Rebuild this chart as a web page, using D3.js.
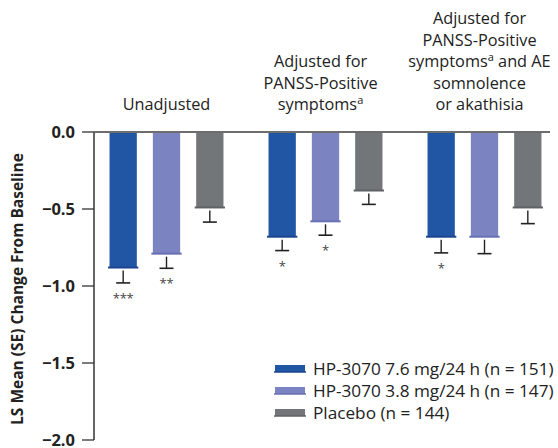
<!DOCTYPE html>
<html>
<head>
<meta charset="utf-8">
<script src="https://cdn.jsdelivr.net/npm/d3@7"></script>
<style>
  body { margin: 0; background: #fff; }
  svg { font-family: "Open Sans", "Noto Sans", sans-serif; }
  .tick-label { font-weight: bold; font-size: 16.5px; fill: #222; }
  .axis-label { font-weight: bold; font-size: 15.5px; fill: #222; }
  .group-title { font-size: 16.3px; fill: #222; }
  .legend-text { font-size: 17.2px; fill: #222; }
  .sig { font-size: 13px; fill: #444; }
</style>
</head>
<body>
<svg id="chart" width="558" height="448"></svg>
<script>

// Chart data
var groups = ["Unadjusted", "Adjusted PANSS", "Adjusted PANSS AE"];
var seriesNames = ["HP-3070 7.6 mg/24 h (n = 151)", "HP-3070 3.8 mg/24 h (n = 147)", "Placebo (n = 144)"];
var seriesColours = ["#2156a5", "#7b83c1", "#727679"];
var seriesEdges = ["#1a4690", "#6870b3", "#5f6366"];

var mean76 = [-0.88, -0.68, -0.68];
var mean38 = [-0.79, -0.58, -0.68];
var meanPlacebo = [-0.49, -0.38, -0.49];

var se76 = [0.10, 0.09, 0.105];
var se38 = [0.095, 0.09, 0.11];
var sePlacebo = [0.095, 0.09, 0.105];

var sig76 = ["***", "*", "*"];
var sig38 = ["**", "*", ""];
var sigPlacebo = ["", "", ""];

var yTicks = [0, -0.5, -1.0, -1.5, -2.0];

// title lines per group; [text, superscript, text after]
var groupTitles = [
    [["Unadjusted", ""]],
    [["Adjusted for", ""], ["PANSS-Positive", ""], ["symptoms", "a"]],
    [["Adjusted for", ""], ["PANSS-Positive", ""], ["symptoms", "a", " and AE"], ["somnolence", ""], ["or akathisia", ""]]
];

var means = [mean76, mean38, meanPlacebo];
var ses = [se76, se38, sePlacebo];
var sigs = [sig76, sig38, sigPlacebo];

var data = [];
groups.forEach(function(g, gi) {
    seriesNames.forEach(function(s, si) {
        data.push({group: g, series: s, si: si, value: means[si][gi], se: ses[si][gi], sig: sigs[si][gi]});
    });
});

var svg = d3.select("#chart");

var axisX = 94;
var y = d3.scaleLinear().domain([0, -2]).range([132, 440]);

var x0 = d3.scaleBand().domain(groups).range([87, 564]);
var x1 = d3.scaleBand().domain(seriesNames).range([0, x0.bandwidth()])
    .paddingInner(0.37).paddingOuter(0.52);

// Y axis line and ticks
svg.append("line")
    .attr("x1", axisX).attr("x2", axisX)
    .attr("y1", y(0)).attr("y2", y(-2))
    .style("stroke", "#333").style("stroke-width", 1.5);

var ticks = svg.append("g").attr("class", "y axis")
    .selectAll(".tick")
    .data(yTicks)
    .enter().append("g")
    .attr("class", "tick")
    .attr("transform", function(d) { return "translate(0," + y(d) + ")"; });

ticks.append("line")
    .attr("x1", axisX - 12).attr("x2", axisX)
    .style("stroke", "#333").style("stroke-width", 1.3);

ticks.append("text")
    .attr("class", "tick-label")
    .attr("x", axisX - 19)
    .attr("dy", "0.35em")
    .style("text-anchor", "end")
    .text(function(d) { return d === 0 ? "0.0" : "\u2212" + d3.format(".1f")(-d); });

// Y axis label
svg.append("text")
    .attr("class", "axis-label")
    .attr("transform", "translate(23," + 289 + ") rotate(-90)")
    .style("text-anchor", "middle")
    .text("LS Mean (SE) Change From Baseline");

// bars
var bars = svg.append("g").selectAll(".bar")
    .data(data)
    .enter().append("g")
    .attr("class", "bar")
    .attr("transform", function(d) { return "translate(" + (x0(d.group) + x1(d.series)) + ",0)"; });

bars.append("rect")
    .attr("x", 0)
    .attr("width", x1.bandwidth())
    .attr("y", y(0))
    .attr("height", function(d) { return y(d.value) - y(0); })
    .style("fill", function(d) { return seriesColours[d.si]; });

// darker bottom edge
bars.append("line")
    .attr("x1", -1.5).attr("x2", x1.bandwidth() + 1.5)
    .attr("y1", function(d) { return y(d.value); })
    .attr("y2", function(d) { return y(d.value); })
    .style("stroke", function(d) { return seriesEdges[d.si]; })
    .style("stroke-width", 2);

// error bars (downward only)
var cx = x1.bandwidth() / 2;
bars.append("line")
    .attr("x1", cx).attr("x2", cx)
    .attr("y1", function(d) { return y(d.value) + 3; })
    .attr("y2", function(d) { return y(d.value - d.se); })
    .style("stroke", "#222").style("stroke-width", 1.4);

bars.append("line")
    .attr("x1", cx - 7).attr("x2", cx + 7)
    .attr("y1", function(d) { return y(d.value - d.se); })
    .attr("y2", function(d) { return y(d.value - d.se); })
    .style("stroke", "#222").style("stroke-width", 1.6);

bars.append("text")
    .attr("class", "sig")
    .attr("x", cx)
    .attr("y", function(d) { return y(d.value - d.se) + 20; })
    .style("text-anchor", "middle")
    .style("letter-spacing", "-0.3px")
    .text(function(d) { return d.sig; });

// zero line
svg.append("line")
    .attr("x1", axisX).attr("x2", 550)
    .attr("y1", y(0)).attr("y2", y(0))
    .style("stroke", "#6d6d6d").style("stroke-width", 2);

// group titles
var lineHeight = 21.5;
var titleBase = 110;
groups.forEach(function(g, gi) {
    var lines = groupTitles[gi];
    var cxg = x0(g) + x0.bandwidth() / 2 - (gi === 0 ? 0 : 5);
    lines.forEach(function(l, li) {
        var t = svg.append("text")
            .attr("class", "group-title")
            .attr("x", cxg)
            .attr("y", titleBase - (lines.length - 1 - li) * lineHeight)
            .style("text-anchor", "middle");
        t.append("tspan").text(l[0]);
        if (l[1]) {
            t.append("tspan")
                .attr("dy", -6)
                .style("font-size", "11px")
                .text(l[1]);
        }
        if (l[2]) {
            t.append("tspan")
                .attr("dy", 6)
                .text(l[2]);
        }
    });
});

// legend
var legend = svg.append("g").selectAll(".legend-item")
    .data(seriesNames)
    .enter().append("g")
    .attr("class", "legend-item")
    .attr("transform", function(d, i) { return "translate(275," + (369 + i * 22) + ")"; });

legend.append("rect")
    .attr("x", 0).attr("y", -4)
    .attr("width", 30).attr("height", 7)
    .style("fill", function(d, i) { return seriesColours[i]; });

legend.append("line")
    .attr("x1", -1).attr("x2", 31)
    .attr("y1", 3).attr("y2", 3)
    .style("stroke", function(d, i) { return seriesEdges[i]; })
    .style("stroke-width", 1.5);

legend.append("text")
    .attr("class", "legend-text")
    .attr("x", 38)
    .attr("dy", "0.35em")
    .text(function(d) { return d; });

</script>
</body>
</html>
